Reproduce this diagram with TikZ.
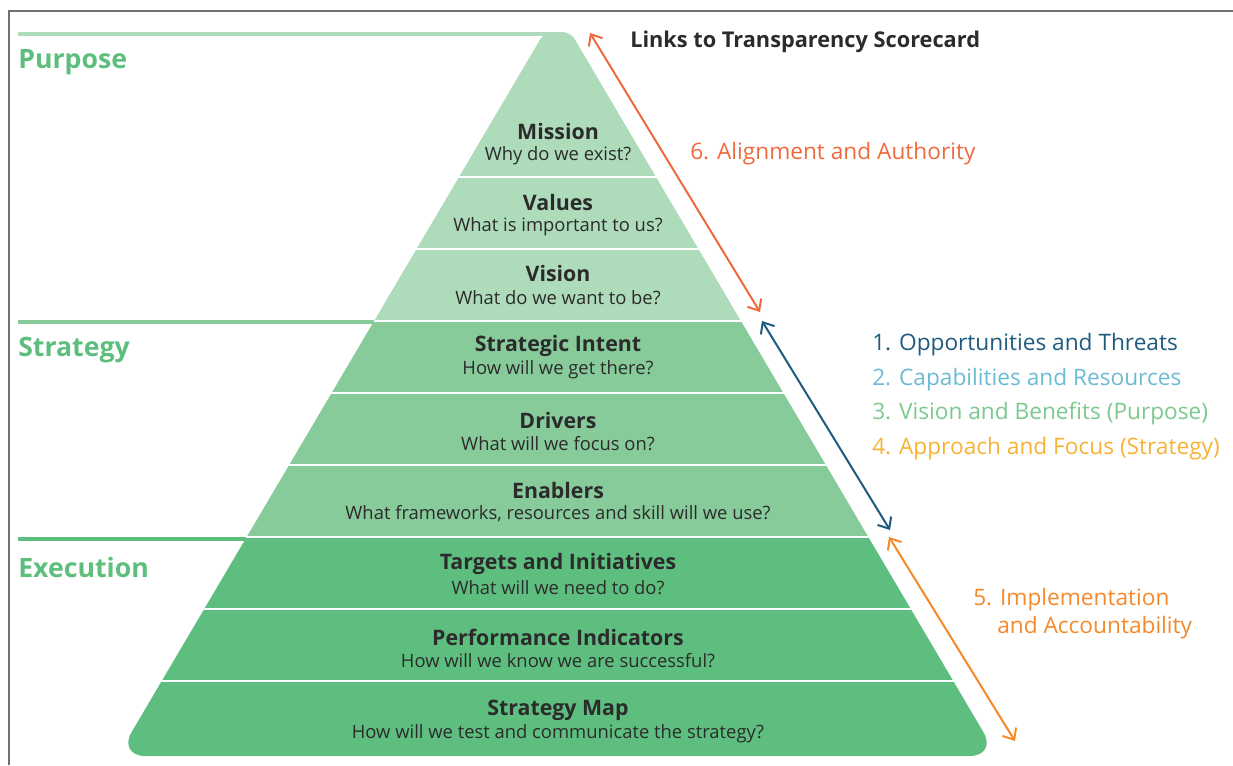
\documentclass[tikz,border=0pt]{standalone}
\usepackage{fontspec}
\setmainfont{Open Sans}
\usetikzlibrary{arrows.meta}
\definecolor{gA}{HTML}{AEDBBA}
\definecolor{gB}{HTML}{88CB9B}
\definecolor{gC}{HTML}{5EBE7F}
\definecolor{labg}{HTML}{5DBE7E}
\definecolor{txt}{HTML}{2B2B2B}
\definecolor{cRed}{HTML}{EE6A3C}
\definecolor{cBlue}{HTML}{1F5B7E}
\definecolor{cLBlue}{HTML}{6BBBD4}
\definecolor{cGreen}{HTML}{7CC98F}
\definecolor{cYel}{HTML}{F7B234}
\definecolor{cOr}{HTML}{F5892A}
\definecolor{frame}{HTML}{707070}
\tikzset{
  ttl/.style={font=\fontsize{16}{18}\selectfont\bfseries, text=txt, inner sep=0pt},
  sub/.style={font=\fontsize{13.8}{16}\selectfont, text=txt, inner sep=0pt},
  sect/.style={font=\fontsize{20}{22}\selectfont\bfseries, text=labg, anchor=west, inner sep=0pt},
  side/.style={font=\fontsize{17}{20}\selectfont, anchor=west, inner sep=0pt},
  dbl/.style={line width=1.5pt, {Straight Barb[length=7pt,width=12pt,line width=1.5pt]}-{Straight Barb[length=7pt,width=12pt,line width=1.5pt]}},
  sep/.style={white, line width=1.4pt}
}
\begin{document}
\begin{tikzpicture}[x=0.75pt,y=-0.75pt]
\useasboundingbox (0,0) rectangle (1233,765);
% frame
\draw[frame, line width=1.1pt] (9,765) -- (9,11) -- (1233,11);
% section lines
\draw[gA, line width=2.4pt] (18,34) -- (550,34);
\draw[gB, line width=2.4pt] (18,322) -- (376,322);
\draw[gC, line width=2.4pt] (18,539) -- (246,539);
% pyramid
\begin{scope}
\clip[rounded corners=21pt] (117.5,756) -- (557.5,10) -- (997.5,756) -- cycle;
\clip[rounded corners=6pt] (544.5,32) -- (570.5,32) -- (1100,929) -- (15,929) -- cycle;
\fill[gA] (100,0) rectangle (1010,321);
\fill[gB] (100,321) rectangle (1010,537);
\fill[gC] (100,537) rectangle (1010,765);
\foreach \yy in {177,249,321,393,465,537,609,681}
  \draw[sep] (100,\yy) -- (1010,\yy);
\end{scope}
% section labels
\node[sect] (purpose) at (18,62) {Purpose};
\node[sect] (strategy) at (18,350) {Strategy};
\node[sect] (execution) at (18,567) {Execution};
% band texts
\node[ttl] (t1) at (558,131) {Mission};
\node[sub] (s1) at (558,156) {Why do we exist?};
\node[ttl] (t2) at (558,202) {Values};
\node[sub] (s2) at (558,227) {What is important to us?};
\node[ttl] (t3) at (558,273) {Vision};
\node[sub] (s3) at (558,298) {What do we want to be?};
\node[ttl] (t4) at (558,346) {Strategic Intent};
\node[sub] (s4) at (558,370) {How will we get there?};
\node[ttl] (t5) at (558,420) {Drivers};
\node[sub] (s5) at (558,444) {What will we focus on?};
\node[ttl] (t6) at (558,490) {Enablers};
\node[sub] (s6) at (558,514) {What frameworks, resources and skill will we use?};
\node[ttl] (t7) at (558,564) {Targets and Initiatives};
\node[sub] (s7) at (558,588) {What will we need to do?};
\node[ttl] (t8) at (558,637) {Performance Indicators};
\node[sub] (s8) at (558,661) {How will we know we are successful?};
\node[ttl] (t9) at (558,710) {Strategy Map};
\node[sub] (s9) at (558,734) {How will we test and communicate the strategy?};
% right texts
\node[ttl, anchor=west, font=\fontsize{16.3}{18}\selectfont\bfseries] (links) at (630,42) {Links to Transparency Scorecard};
\node[side, text=cRed] (six) at (690,154) {6. Alignment and Authority};
\node[side, text=cBlue] (one) at (872,345) {1. Opportunities and Threats};
\node[side, text=cLBlue] (two) at (872,380) {2. Capabilities and Resources};
\node[side, text=cGreen] (three) at (872,414) {3. Vision and Benefits (Purpose)};
\node[side, text=cYel] (four) at (872,449) {4. Approach and Focus (Strategy)};
\node[side, text=cOr] (five) at (973,600) {5. Implementation};
\node[side, text=cOr] (fiveb) at (997,628) {and Accountability};
% arrows
\coordinate (a1) at (590,33);
\coordinate (a2) at (760,312);
\coordinate (b1) at (762,321);
\coordinate (b2) at (890,530);
\coordinate (c1) at (889,537);
\coordinate (c2) at (1015,741);
\draw[dbl, cRed] (a1) -- (a2);
\draw[dbl, cBlue] (b1) -- (b2);
\draw[dbl, cOr] (c1) -- (c2);
\end{tikzpicture}
\end{document}
